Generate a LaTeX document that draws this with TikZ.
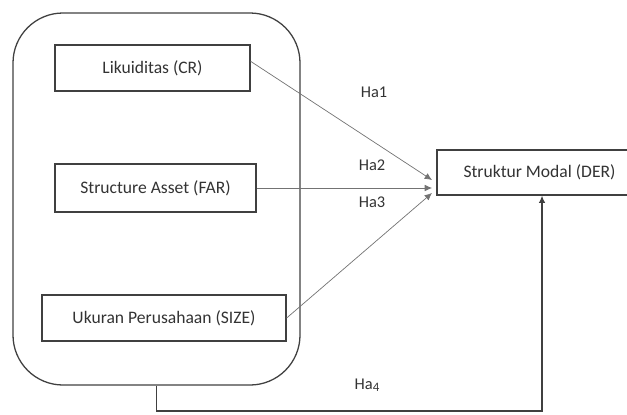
\documentclass[tikz,border=0pt]{standalone}
\usepackage{fontspec}
\setmainfont{Carlito}
\usetikzlibrary{arrows.meta,positioning}
\tikzset{varbox/.style={draw=black!75, line width=1.1pt, minimum height=1.38cm, font=\fontsize{15}{18}\selectfont, text=black!80},
         hlabel/.style={font=\fontsize{14}{17}\selectfont, text=black!80},
         hline/.style={draw=black!55, line width=0.6pt, -{Latex[length=2.2mm,width=2mm]}}}

\begin{document}
\begin{tikzpicture}[x=0.03cm,y=-0.03cm]

\useasboundingbox (0,0) rectangle (627,414);

\node[draw=black!75, line width=1.1pt, rounded corners=1.5cm, minimum width=8.61cm, minimum height=11.16cm] (group) at (156.5,199) {};

\node[varbox, minimum width=5.85cm] (cr) at (152.5,68) {Likuiditas (CR)};
\node[varbox, minimum width=6.03cm, minimum height=1.44cm] (far) at (155.5,188) {Structure Asset (FAR)};
\node[varbox, minimum width=7.32cm] (size) at (164,318) {Ukuran Perusahaan (SIZE)};

\node[varbox, minimum width=6.3cm, minimum height=1.35cm] (der) at (542,172.5) {\hspace*{-0.15cm}Struktur Modal (DER)};

\coordinate (t1) at (432,180);
\coordinate (t2) at (432,188);
\coordinate (t3) at (432,193);
\coordinate (corner1) at (156.5,411);
\coordinate (corner2) at (542,411);

% hypothesis arrows
\draw[hline] ([yshift=0.2cm]cr.east) -- (t1);
\draw[hline] (far.east) -- (t2);
\draw[hline] (size.east) -- (t3);
\draw[draw=black!75, line width=1.1pt, -{Latex[length=2.2mm,width=2mm]}] (group.south) -- (corner1) -- (corner2) -- (der.south);

\node[hlabel] (ha1) at (374,92) {Ha1};
\node[hlabel] (ha2) at (372,165) {Ha2};
\node[hlabel] (ha3) at (372,202) {Ha3};
\node[hlabel] (ha4) at (367,385) {Ha\raisebox{-2pt}{\fontsize{11}{12}\selectfont 4}};

\end{tikzpicture}
\end{document}
